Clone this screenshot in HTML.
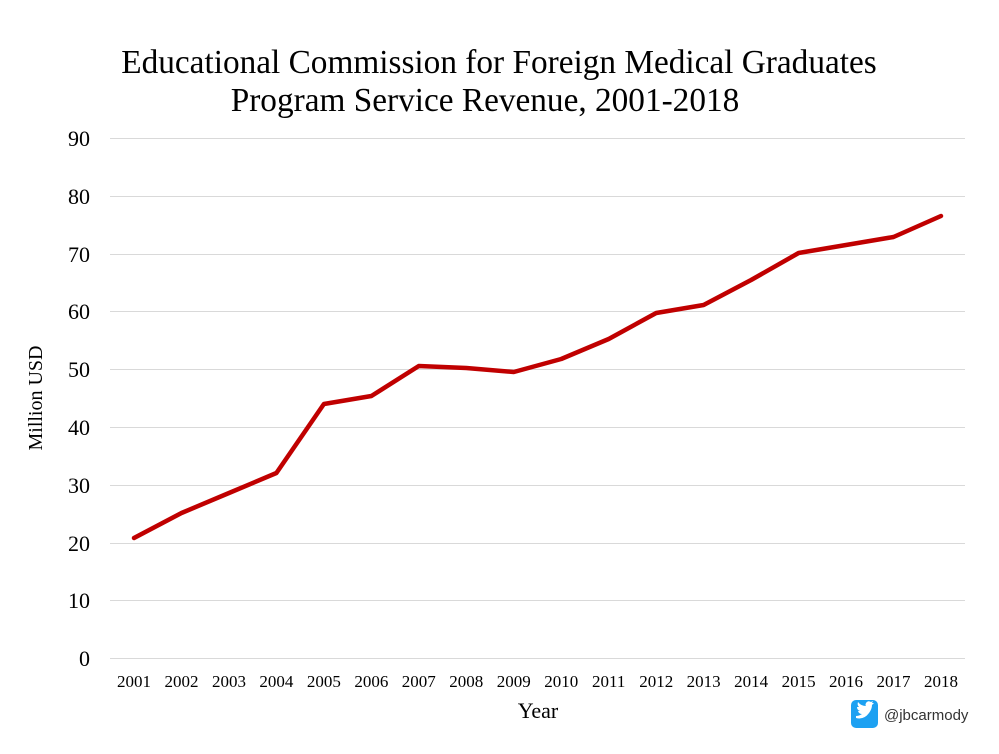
<!DOCTYPE html>
<html><head><meta charset="utf-8"><style>
body{margin:0;background:#fff;width:999px;height:749px;overflow:hidden}
</style></head><body>
<svg width="999" height="749" xmlns="http://www.w3.org/2000/svg" font-family="Liberation Serif, serif">
<rect width="999" height="749" fill="#fff"/>
<text x="499" y="73" font-size="33.3" text-anchor="middle" fill="#000">Educational Commission for Foreign Medical Graduates</text>
<text x="485" y="111" font-size="33.3" text-anchor="middle" fill="#000">Program Service Revenue, 2001-2018</text>
<g stroke="#d9d9d9" stroke-width="1">
<line x1="110" x2="965" y1="138.5" y2="138.5"/><line x1="110" x2="965" y1="196.5" y2="196.5"/>
<line x1="110" x2="965" y1="254.5" y2="254.5"/><line x1="110" x2="965" y1="311.5" y2="311.5"/>
<line x1="110" x2="965" y1="369.5" y2="369.5"/><line x1="110" x2="965" y1="427.5" y2="427.5"/>
<line x1="110" x2="965" y1="485.5" y2="485.5"/><line x1="110" x2="965" y1="543.5" y2="543.5"/>
<line x1="110" x2="965" y1="600.5" y2="600.5"/><line x1="110" x2="965" y1="658.5" y2="658.5"/>
</g>
<g font-size="22" text-anchor="end" fill="#000">
<text x="90" y="146">90</text><text x="90" y="204">80</text><text x="90" y="262">70</text>
<text x="90" y="319">60</text><text x="90" y="377">50</text><text x="90" y="435">40</text>
<text x="90" y="493">30</text><text x="90" y="551">20</text><text x="90" y="608">10</text>
<text x="90" y="666">0</text>
</g>
<text transform="translate(42,398) rotate(-90)" font-size="20" text-anchor="middle">Million USD</text>
<g font-size="17" text-anchor="middle" fill="#000">
<text x="134" y="687">2001</text><text x="181.5" y="687">2002</text><text x="229" y="687">2003</text>
<text x="276.4" y="687">2004</text><text x="323.9" y="687">2005</text><text x="371.4" y="687">2006</text>
<text x="418.8" y="687">2007</text><text x="466.3" y="687">2008</text><text x="513.8" y="687">2009</text>
<text x="561.2" y="687">2010</text><text x="608.7" y="687">2011</text><text x="656.2" y="687">2012</text>
<text x="703.6" y="687">2013</text><text x="751.1" y="687">2014</text><text x="798.6" y="687">2015</text>
<text x="846" y="687">2016</text><text x="893.5" y="687">2017</text><text x="941" y="687">2018</text>
</g>
<text x="538" y="718" font-size="22" text-anchor="middle">Year</text>
<polyline fill="none" stroke="#c00000" stroke-width="4.5" stroke-linejoin="round" stroke-linecap="round"
points="134,538 181.5,513 229,493 276.4,473 323.9,404 371.4,396 418.8,366 466.3,368 513.8,372 561.2,359 608.7,339 656.2,313 703.6,305 751.1,280 798.6,253 846,245 893.5,237 941,216"/>
<rect x="851" y="700" width="27" height="28" rx="5" fill="#1da1f2"/>
<path d="M856,718 q8,2 13,-5 q3,-4 3,-8 l2,-2 l-2,0 l1,-2 l-2,1 q-3,-2 -5,1 q-1,2 0,3 q-5,0 -8,-4 q-1,3 1,5 l-2,0 q0,3 3,4 l-2,0 q1,3 4,3 q-3,2 -6,2 z" fill="#fff"/>
<text x="884" y="720" font-family="Liberation Sans, sans-serif" font-size="15" fill="#333">@jbcarmody</text>
</svg>
</body></html>
